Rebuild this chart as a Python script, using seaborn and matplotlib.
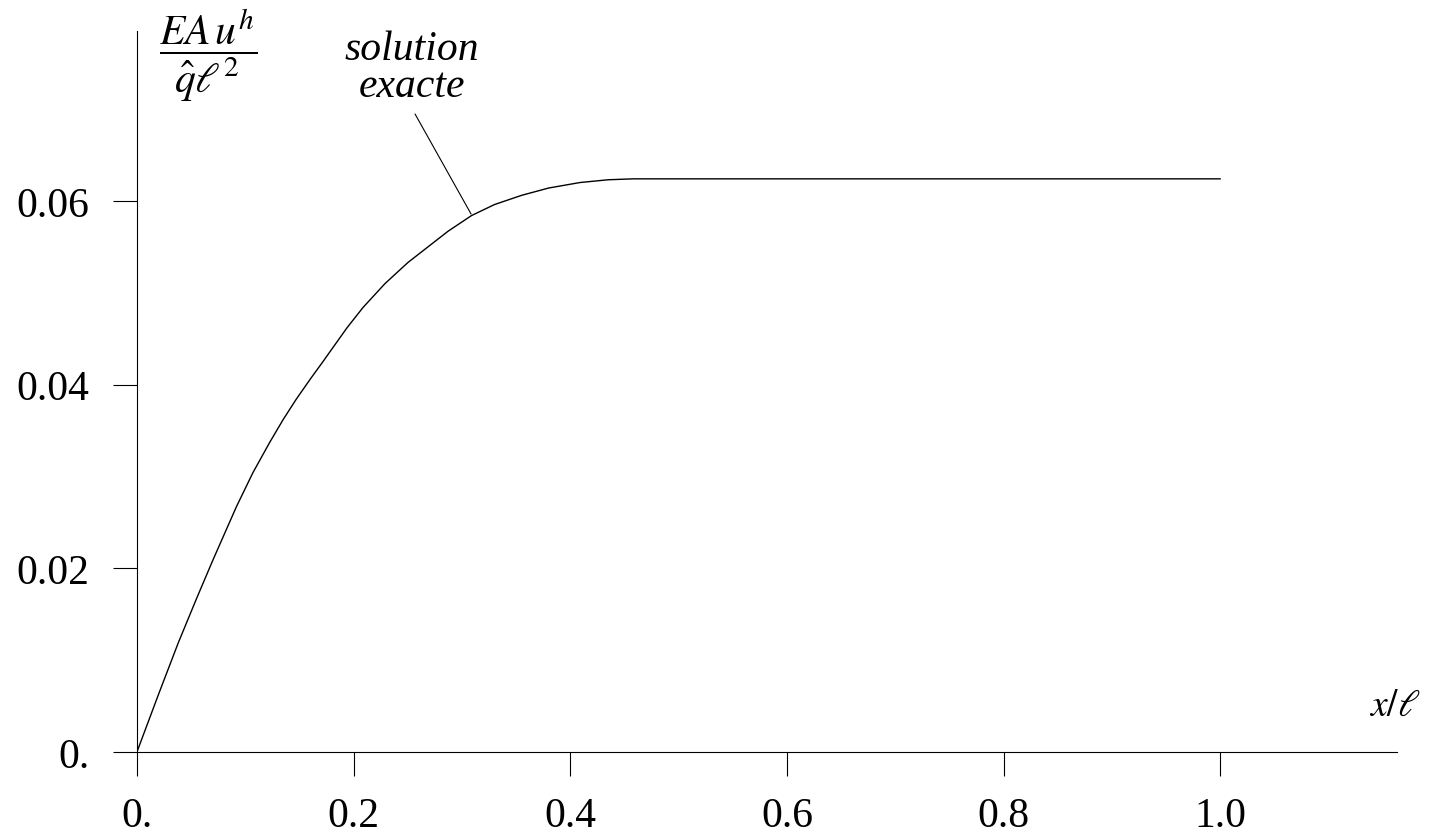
import matplotlib
matplotlib.use("Agg")
import matplotlib.pyplot as plt
import seaborn as sns
import pandas as pd

# Curve (exact solution)
x_vals = [0.0, 0.02, 0.0382, 0.055, 0.0705, 0.0918, 0.107, 0.1225, 0.135, 0.147,
          0.16, 0.1717, 0.1795, 0.194, 0.2087, 0.229, 0.2502, 0.2872, 0.3088, 0.33,
          0.3549, 0.38, 0.409, 0.435, 0.458, 0.48, 1.0]
u_vals = [0.0, 0.0063, 0.0119, 0.0167, 0.0210, 0.0267, 0.0304, 0.0337, 0.0362, 0.0384,
          0.0406, 0.0425, 0.0438, 0.0462, 0.0484, 0.0510, 0.0533, 0.0567, 0.0584, 0.0596,
          0.0606, 0.0614, 0.0620, 0.0623, 0.0624, 0.0624, 0.0624]

x_ticks = [0.0, 0.2, 0.4, 0.6, 0.8, 1.0]
x_tick_labels = ["0.", "0.2", "0.4", "0.6", "0.8", "1.0"]
y_ticks = [0.0, 0.02, 0.04, 0.06]
y_tick_labels = ["0.", "0.02", "0.04", "0.06"]

df = pd.DataFrame({"x": x_vals, "u": u_vals})

sns.set_style("ticks")
plt.rcParams["font.family"] = ["Liberation Serif", "DejaVu Serif"]
plt.rcParams["mathtext.fontset"] = "stix"
plt.rcParams["text.color"] = "black"
plt.rcParams["axes.labelcolor"] = "black"
plt.rcParams["xtick.color"] = "black"
plt.rcParams["ytick.color"] = "black"

fig = plt.figure(figsize=(14.31, 8.37), dpi=100)
ax = fig.add_axes([0.0957, 0.1004, 0.8805, 0.8614])

sns.lineplot(data=df, x="x", y="u", ax=ax, color="black", linewidth=1.0,
             sort=False, estimator=None)

ax.set_xlim(0, 1.163)
ax.set_ylim(0, 0.0785)
ax.set_xticks(x_ticks)
ax.set_xticklabels(x_tick_labels)
ax.set_yticks(y_ticks)
ax.set_yticklabels(y_tick_labels)
ax.set_xlabel("")
ax.set_ylabel("")

for s in ["top", "right"]:
    ax.spines[s].set_visible(False)
for s in ["left", "bottom"]:
    ax.spines[s].set_linewidth(0.8)
    ax.spines[s].set_color("black")

ax.tick_params(axis="both", direction="out", length=17, width=0.8,
               colors="black", labelsize=30)
ax.tick_params(axis="x", pad=15)
ax.tick_params(axis="y", pad=17)

# Axis labels
fig.text(208 / 1431, 1 - 55 / 837, r"$\dfrac{EA\,u^h}{\hat{q}\ell^2}$",
         ha="center", va="center", fontsize=30, color="black")
fig.text(1395 / 1431, 1 - 707 / 837, r"$x/\ell$",
         ha="center", va="center", fontsize=27, color="black")

# Annotation
ax.text(0.254, 0.0745, "solution\nexacte", ha="center", va="center",
        fontsize=30, fontstyle="italic", linespacing=0.95, color="black")
ax.plot([0.2567, 0.3084], [0.06946, 0.05857], color="black", linewidth=0.8)

fig.savefig("out.png", dpi=100)
